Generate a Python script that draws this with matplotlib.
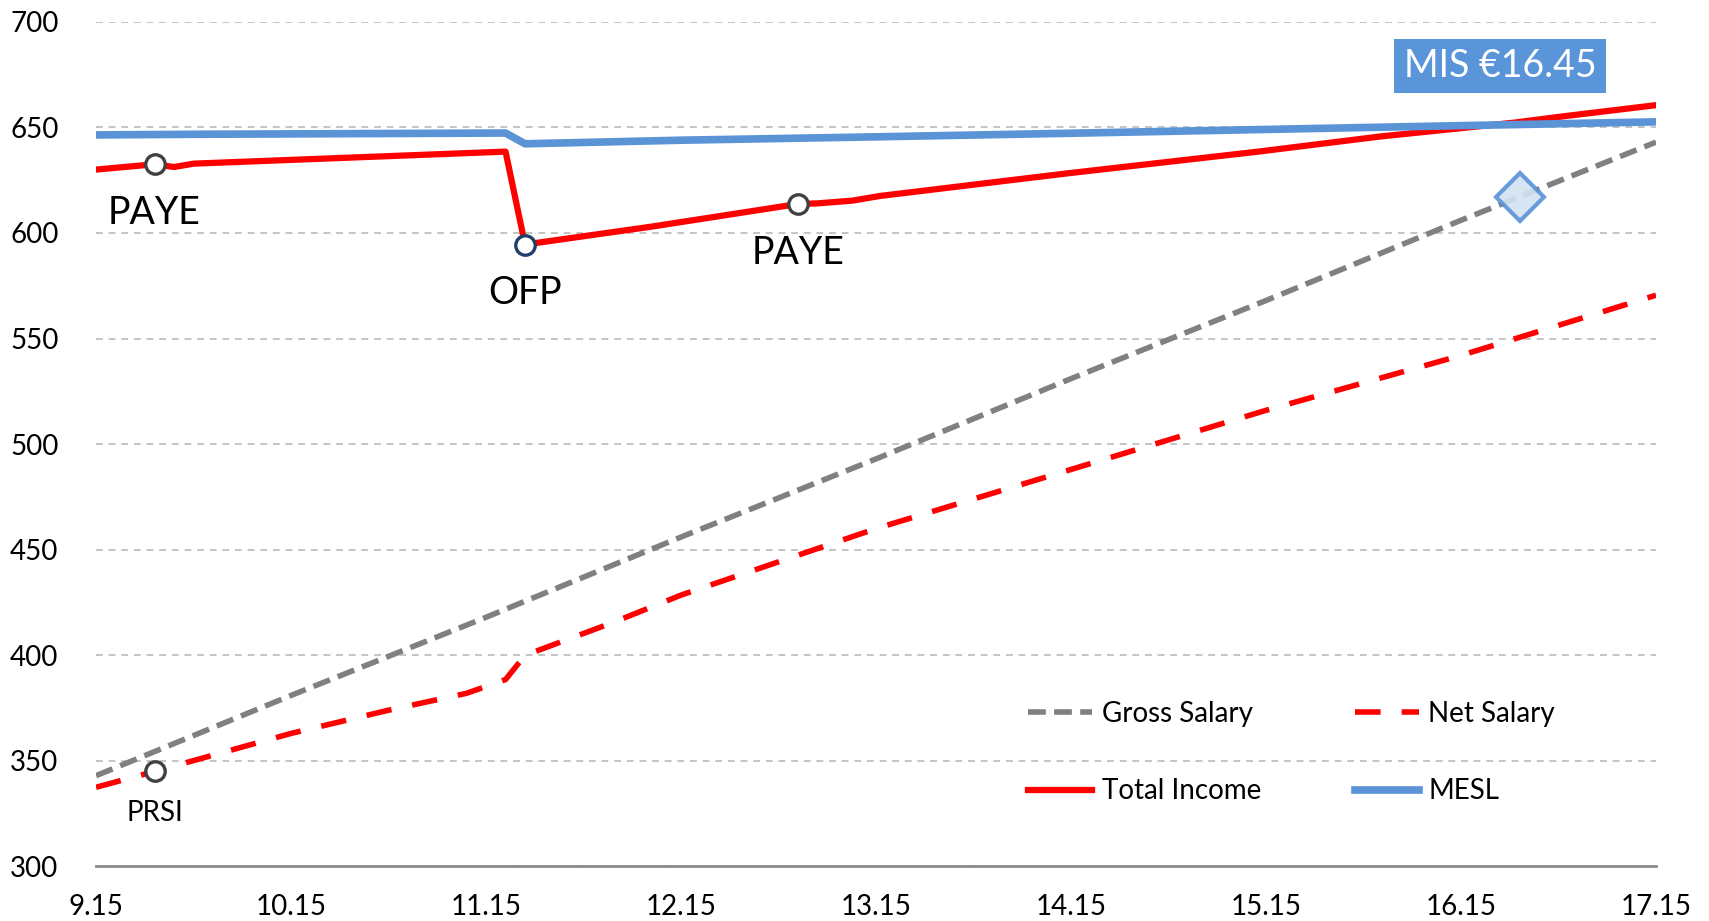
import numpy as np
import matplotlib
matplotlib.use("Agg")
import matplotlib.pyplot as plt

plt.rcParams['font.family'] = ['Lato', 'DejaVu Sans']

# hourly wage (x) and weekly amounts in euro (y)
wage_ticks = [9.15, 10.15, 11.15, 12.15, 13.15, 14.15, 15.15, 16.15, 17.15]
y_ticks = [300, 350, 400, 450, 500, 550, 600, 650, 700]

gross_wage = [9.15, 10.15, 11.15, 12.15, 13.15, 14.15, 15.15, 16.15, 17.15]
gross_salary = [343, 381, 418, 456, 493, 531, 568, 606, 643]

net_wage = [9.15, 9.45, 10.15, 10.65, 11.05, 11.25, 11.35, 11.8, 12.15,
            13.15, 14.15, 15.15, 16.15, 17.15]
net_salary = [337.5, 345, 363, 374, 382, 388.5, 400, 415.5, 428.5,
              460, 488, 516, 542, 570.5]

total_wage = [9.15, 9.45, 9.55, 9.65, 11.25, 11.35, 12.0, 12.75, 12.85,
              13.03, 13.17, 14.14, 15.11, 15.73, 16.42, 16.70, 17.15]
total_income = [630, 632.5, 631.2, 632.8, 638.5, 594.5, 603, 613.7, 614,
                615.3, 617.5, 628.3, 638.5, 645.6, 652.2, 655.5, 660.5]

mesl_wage = [9.15, 9.65, 11.25, 11.35, 12.15, 13.15, 14.15, 15.15, 16.15, 17.15]
mesl = [646.4, 646.7, 647.3, 642.2, 643.9, 645.5, 647.2, 649.0, 650.8, 652.6]

paye_wages = [9.45, 12.75]
ofp_wage = 11.35
prsi_wage = 9.45
mis_wage = 16.45

RED = '#FF0000'
BLUE = '#5B93D7'
GREY = '#808080'

fig = plt.figure(figsize=(17.09, 9.21), dpi=100)
ax = fig.add_axes([0.0562, 0.0592, 0.9128, 0.9172])

ax.plot(gross_wage, gross_salary, color=GREY, lw=4.0, dashes=(3.2, 1.5),
        label='Gross Salary', zorder=3)
ax.plot(total_wage, total_income, color=RED, lw=4.5, label='Total Income',
        zorder=4)
ax.plot(net_wage, net_salary, color=RED, lw=4.0, dashes=(4.6, 3.8),
        label='Net Salary', zorder=3)
ax.plot(mesl_wage, mesl, color=BLUE, lw=5.5, label='MESL', zorder=4)

# markers for the thresholds
paye_y = np.interp(paye_wages, total_wage, total_income)
ax.plot(paye_wages, paye_y, 'o', ms=14, mfc='white', mec='#404040', mew=2.4,
        zorder=6)
ofp_y = np.interp(ofp_wage, total_wage, total_income)
ax.plot([ofp_wage], [ofp_y], 'o', ms=14, mfc='white', mec='#1F3F6A', mew=2.4,
        zorder=6)
prsi_y = np.interp(prsi_wage, net_wage, net_salary)
ax.plot([prsi_wage], [prsi_y], 'o', ms=14, mfc='white', mec='#404040', mew=2.4,
        zorder=6)
mis_y = np.interp(mis_wage, gross_wage, gross_salary)
ax.plot([mis_wage], [mis_y], 'D', ms=24, mfc='#D3E2F3', mec=BLUE, mew=3,
        zorder=5, alpha=0.9)

for w, yv in zip(paye_wages, paye_y):
    ax.annotate('PAYE', (w, yv), xytext=(0, -35), textcoords='offset points',
                ha='center', va='center', fontsize=27)
ax.annotate('OFP', (ofp_wage, ofp_y), xytext=(0, -35),
            textcoords='offset points', ha='center', va='center', fontsize=27)
ax.annotate('PRSI', (prsi_wage, prsi_y), xytext=(0, -30),
            textcoords='offset points', ha='center', va='center', fontsize=20)

ax.text(16.35, 679, 'MIS €16.45', color='white', fontsize=27, ha='center',
        va='center', bbox=dict(boxstyle='square,pad=0.25', fc='#5B95D9', ec='none'),
        zorder=7)

ax.set_xlim(9.15, 17.15)
ax.set_ylim(300, 700)
ax.set_xticks(wage_ticks)
ax.set_xticklabels([f'{w:.2f}' for w in wage_ticks])
ax.set_yticks(y_ticks)
ax.tick_params(axis='both', length=0, labelsize=20)
ax.tick_params(axis='y', pad=27)
ax.tick_params(axis='x', pad=20)

for s in ['top', 'right', 'left']:
    ax.spines[s].set_visible(False)
ax.spines['bottom'].set_color('#8C8C8C')
ax.spines['bottom'].set_linewidth(2)

ax.yaxis.grid(True, color='#C4C4C4', lw=1.4, linestyle=(0, (3.5, 3)))
ax.set_axisbelow(True)
ax.xaxis.grid(False)

h, l = ax.get_legend_handles_labels()
ax.legend(h, l, ncol=2,
          loc='upper left', bbox_to_anchor=(13.93, 378.5),
          bbox_transform=ax.transData, frameon=False, fontsize=20,
          handlelength=2.3, handletextpad=0.35, columnspacing=3.37,
          labelspacing=1.86, borderpad=0, borderaxespad=0)

fig.savefig('out.png', dpi=100)
